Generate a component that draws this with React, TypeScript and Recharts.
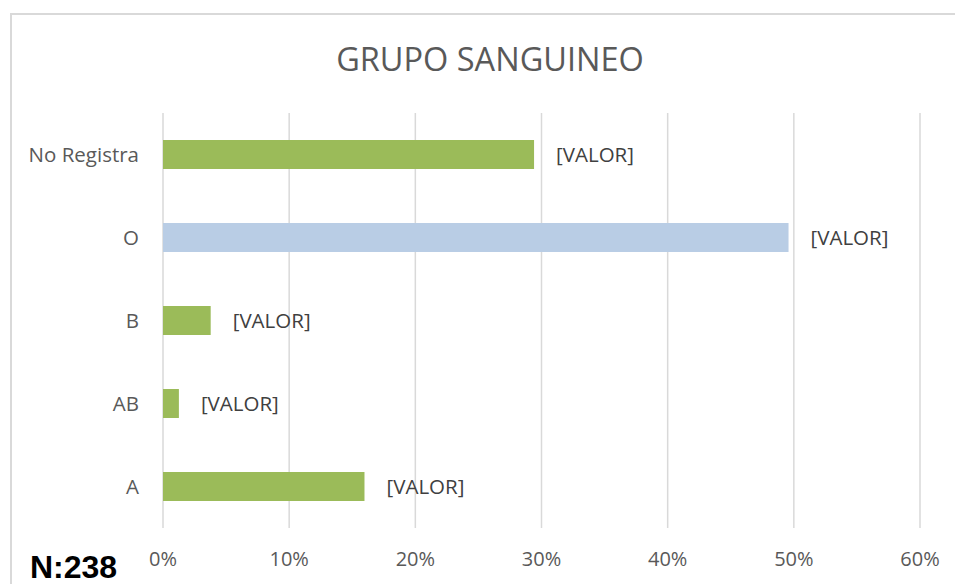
import React from "react";
import { BarChart, Bar, XAxis, YAxis, CartesianGrid, Cell, LabelList } from "recharts";

const categories = ["No Registra", "O", "B", "AB", "A"];
const percentages = [29.41, 49.58, 3.78, 1.26, 15.97];
const barColors = ["#9BBB59", "#B9CDE5", "#9BBB59", "#9BBB59", "#9BBB59"];
const xTicks = [0, 10, 20, 30, 40, 50, 60];
const valueLabel = "[VALOR]";
const titleText = "GRUPO SANGUINEO";
const sampleText = "N:238";

const data = categories.map((c, i) => ({ name: c, value: percentages[i] }));

const FONT = "'Open Sans', sans-serif";

export default function App() {
  return (
    <div style={{ position: "absolute", left: 0, top: 0, width: 955, height: 584, overflow: "hidden", background: "#fff" }}>
      <div style={{ position: "absolute", left: 10, top: 13, width: 1100, height: 700, border: "2px solid #d9d9d9", boxSizing: "border-box" }} />
      <div style={{ position: "absolute", left: 0, top: 0 }}>
        <BarChart
          width={955}
          height={584}
          data={data}
          layout="vertical"
          margin={{ top: 113, right: 35, left: 0, bottom: 0 }}
          barCategoryGap={0}
        >
          <CartesianGrid horizontal={false} vertical={true} stroke="#d9d9d9" strokeWidth={1.5} />
          <XAxis
            type="number"
            domain={[0, 60]}
            ticks={xTicks}
            tickFormatter={(v: number) => `${v}%`}
            axisLine={false}
            tickLine={false}
            tickSize={0}
            tickMargin={24}
            height={56}
            tick={{ fill: "#595959", fontSize: 20, fontFamily: FONT }}
          />
          <YAxis
            type="category"
            dataKey="name"
            width={163}
            axisLine={false}
            tickLine={false}
            tickSize={0}
            tickMargin={24}
            tick={{ fill: "#595959", fontSize: 20.5, fontFamily: FONT }}
          />
          <Bar dataKey="value" barSize={29} isAnimationActive={false}>
            {data.map((d, i) => (
              <Cell key={d.name} fill={barColors[i]} />
            ))}
            <LabelList
              dataKey="value"
              position="right"
              offset={22}
              formatter={() => valueLabel}
              style={{ fill: "#404040", fontSize: 20.5, fontFamily: FONT }}
            />
          </Bar>
        </BarChart>
      </div>
      <div style={{ position: "absolute", left: 0, width: 980, top: 37, textAlign: "center", fontFamily: FONT, fontSize: 32.5, color: "#595959", lineHeight: "44px" }}>
        {titleText}
      </div>
      <div style={{ position: "absolute", left: 30, top: 546, fontFamily: "'Liberation Sans', Arial, sans-serif", fontWeight: "bold", fontSize: 32, color: "#000", lineHeight: "42px" }}>
        {sampleText}
      </div>
    </div>
  );
}
